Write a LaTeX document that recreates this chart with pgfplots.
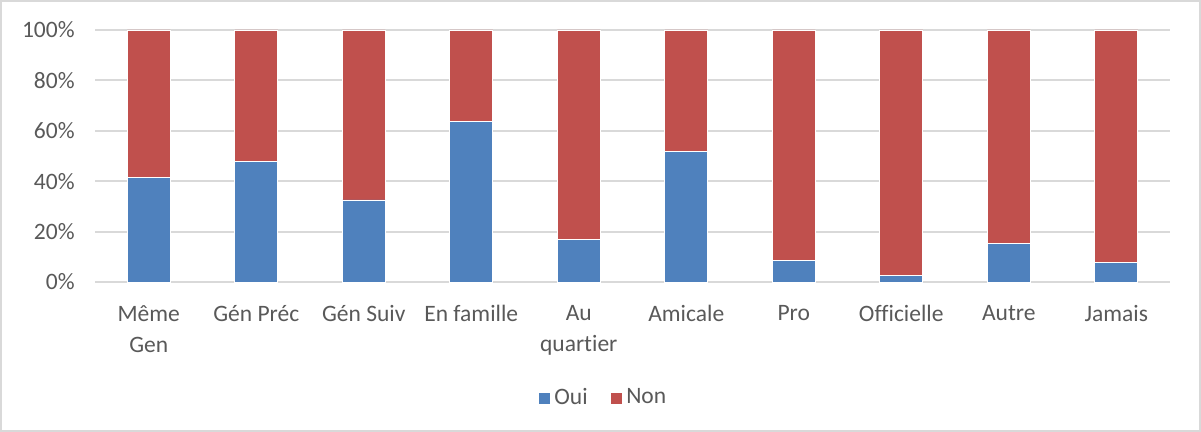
\documentclass[border=0pt]{standalone}
\usepackage{fontspec}
\setmainfont{Carlito}[Ligatures=NoCommon]
\usepackage{pgfplots}
\pgfplotsset{compat=1.18}

\definecolor{oui}{HTML}{4F81BD}
\definecolor{non}{HTML}{C0504D}
\definecolor{gridgray}{HTML}{D9D9D9}
\definecolor{txtgray}{HTML}{595959}

\begin{document}
\begin{tikzpicture}
\useasboundingbox (-47.5bp,-75bp) rectangle (553bp,141bp);
\draw[gridgray, line width=0.75bp] (-47bp,-74.5bp) rectangle (552.5bp,140.5bp);
\begin{axis}[
  at={(0,0)}, anchor=south west,
  scale only axis,
  width=537.5bp, height=126bp,
  ybar stacked, bar width=21.5bp,
  xmin=-0.5, xmax=9.5,
  ymin=0, ymax=100,
  axis line style={draw=none},
  major tick length=0pt,
  ymajorgrids, grid style={gridgray, line width=0.9bp},
  ytick={0,20,40,60,80,100},
  yticklabels={0\%,20\%,40\%,60\%,80\%,100\%},
  xtick=data,
  xticklabels={{Même\\Gen},{Gén Préc},{Gén Suiv},{En famille},{Au\\quartier},{Amicale},{Pro},{Officielle},{Autre},{Jamais}},
  font=\fontsize{11.8}{15.5}\selectfont,
  yticklabel style={txtgray, inner sep=0pt, anchor=east, xshift=-10bp},
  xticklabel style={txtgray, align=center, inner sep=0pt, anchor=north, yshift=-11.5bp},
  legend columns=2,
  legend style={draw=none, at={(0.4735,-0.46)}, anchor=center, text=txtgray,
    /tikz/every even column/.append style={column sep=9bp}},
  legend image code/.code={\fill[#1] (0bp,-3bp) rectangle (6bp,3bp);},
]
\addplot[fill=oui, draw=white, line width=0.3bp] coordinates {
  (0,41.4) (1,47.9) (2,32.6) (3,63.8) (4,17.0)
  (5,51.9) (6,8.5) (7,2.5) (8,15.3) (9,7.7)
};
\addplot[fill=non, draw=white, line width=0.3bp] coordinates {
  (0,58.6) (1,52.1) (2,67.4) (3,36.2) (4,83.0)
  (5,48.1) (6,91.5) (7,97.5) (8,84.7) (9,92.3)
};
\legend{Oui,Non}
\end{axis}
\end{tikzpicture}
\end{document}
